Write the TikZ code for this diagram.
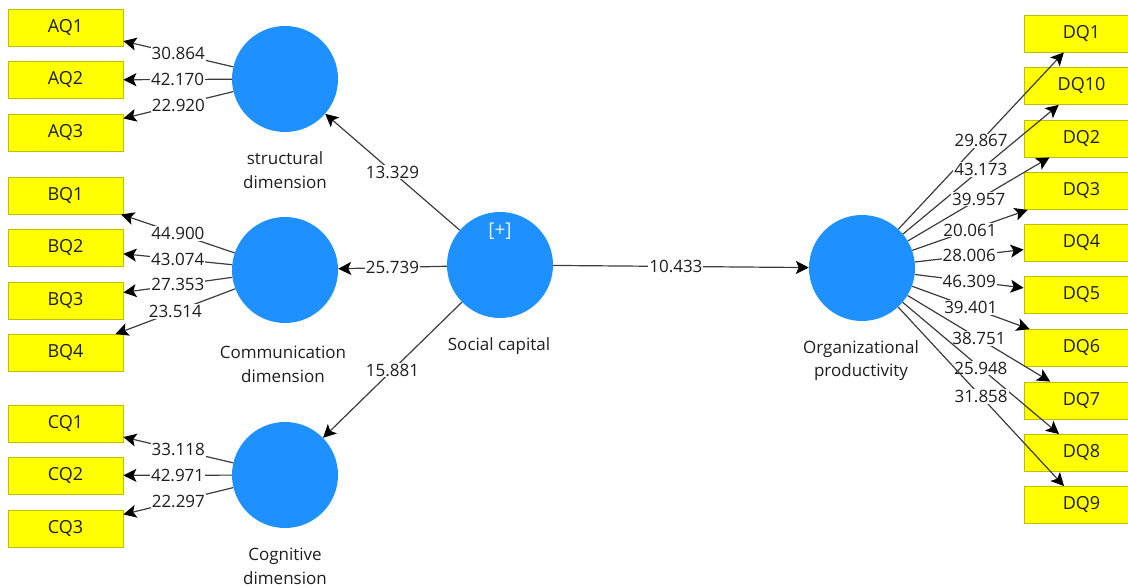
\documentclass[tikz,border=0pt]{standalone}
\usepackage{fontspec}
\setmainfont{Open Sans}
\usetikzlibrary{arrows.meta}
\definecolor{lvblue}{RGB}{30,144,255}
\definecolor{mvyellow}{RGB}{255,255,0}
\definecolor{mvborder}{RGB}{190,190,0}
\definecolor{pathgray}{RGB}{60,60,60}
\definecolor{txt}{RGB}{30,30,30}
\begin{document}
\begin{tikzpicture}[x=1pt,y=-1pt,
  lv/.style={circle,fill=lvblue,minimum size=106pt,inner sep=0pt},
  mv/.style={rectangle,fill=mvyellow,draw=mvborder,line width=0.8pt,minimum width=115pt,minimum height=37pt,inner sep=0pt,font=\fontsize{18}{19}\selectfont,text=txt},
  lvlabel/.style={align=center,font=\fontsize{17}{23.5}\selectfont,text=txt},
  conn/.style={draw=pathgray,line width=1.2pt,-{Stealth[length=13pt,width=13pt,inset=3pt,color=black]}},
  coef/.style={fill=white,inner sep=1pt,font=\fontsize{17}{19}\selectfont,text=txt}
]
\useasboundingbox (0,0) rectangle (1128,588);
\clip (0,0) rectangle (1128,588);

% latent variables
\node[lv] (S) at (285,79) {};
\node[lv] (C) at (285,270) {};
\node[lv] (G) at (285,475) {};
\node[lv] (SC) at (500,265) {};
\node[lv] (OP) at (862,268) {};
\node[font=\fontsize{19}{20}\selectfont,text=white!88!lvblue] (plus) at (500,231) {[+]};

\node[lvlabel] (Sl) at (285,170) {structural\\dimension};
\node[lvlabel] (Cl) at (283,364.5) {Communication\\dimension};
\node[lvlabel] (Gl) at (285,566.5) {Cognitive\\dimension};
\node[lvlabel] (SCl) at (499,346) {Social capital};
\node[lvlabel] (OPl) at (861,360.5) {Organizational\\productivity};

% indicators
\node[mv] (AQ1) at (65.5,27.5) {AQ1};
\node[mv] (AQ2) at (65.5,80) {AQ2};
\node[mv] (AQ3) at (65.5,132.5) {AQ3};
\node[mv] (BQ1) at (65.5,195.5) {BQ1};
\node[mv] (BQ2) at (65.5,248) {BQ2};
\node[mv] (BQ3) at (65.5,300.5) {BQ3};
\node[mv] (BQ4) at (65.5,353) {BQ4};
\node[mv] (CQ1) at (65.5,423.5) {CQ1};
\node[mv] (CQ2) at (65.5,475.5) {CQ2};
\node[mv] (CQ3) at (65.5,528.5) {CQ3};

\node[mv] (DQ1) at (1081.5,33.5) {DQ1};
\node[mv] (DQ10) at (1081.5,86) {DQ10};
\node[mv] (DQ2) at (1081.5,138.5) {DQ2};
\node[mv] (DQ3) at (1081.5,191) {DQ3};
\node[mv] (DQ4) at (1081.5,243) {DQ4};
\node[mv] (DQ5) at (1081.5,295) {DQ5};
\node[mv] (DQ6) at (1081.5,348) {DQ6};
\node[mv] (DQ7) at (1081.5,400.5) {DQ7};
\node[mv] (DQ8) at (1081.5,453) {DQ8};
\node[mv] (DQ9) at (1081.5,505) {DQ9};

% structural paths
\draw[conn] (SC) -- node[coef] {13.329} (S);
\draw[conn] (SC) -- node[coef] {25.739} (C);
\draw[conn] (SC) -- node[coef] {15.881} (G);
\draw[conn] (SC) -- node[coef,pos=0.48] {10.433} (OP);

% outer loadings
\draw[conn] (S) -- node[coef] {30.864} (AQ1);
\draw[conn] (S) -- node[coef] {42.170} (AQ2);
\draw[conn] (S) -- node[coef] {22.920} (AQ3);

\draw[conn] (C) -- node[coef] {44.900} (BQ1);
\draw[conn] (C) -- node[coef] {43.074} (BQ2);
\draw[conn] (C) -- node[coef] {27.353} (BQ3);
\draw[conn] (C) -- node[coef] {23.514} (BQ4);

\draw[conn] (G) -- node[coef] {33.118} (CQ1);
\draw[conn] (G) -- node[coef] {42.971} (CQ2);
\draw[conn] (G) -- node[coef] {22.297} (CQ3);

\draw[conn] (OP) -- node[coef] {29.867} (DQ1);
\draw[conn] (OP) -- node[coef] {43.173} (DQ10);
\draw[conn] (OP) -- node[coef] {39.957} (DQ2);
\draw[conn] (OP) -- node[coef] {20.061} (DQ3);
\draw[conn] (OP) -- node[coef] {28.006} (DQ4);
\draw[conn] (OP) -- node[coef] {46.309} (DQ5);
\draw[conn] (OP) -- node[coef] {39.401} (DQ6);
\draw[conn] (OP) -- node[coef] {38.751} (DQ7);
\draw[conn] (OP) -- node[coef] {25.948} (DQ8);
\draw[conn] (OP) -- node[coef] {31.858} (DQ9);
\end{tikzpicture}
\end{document}
